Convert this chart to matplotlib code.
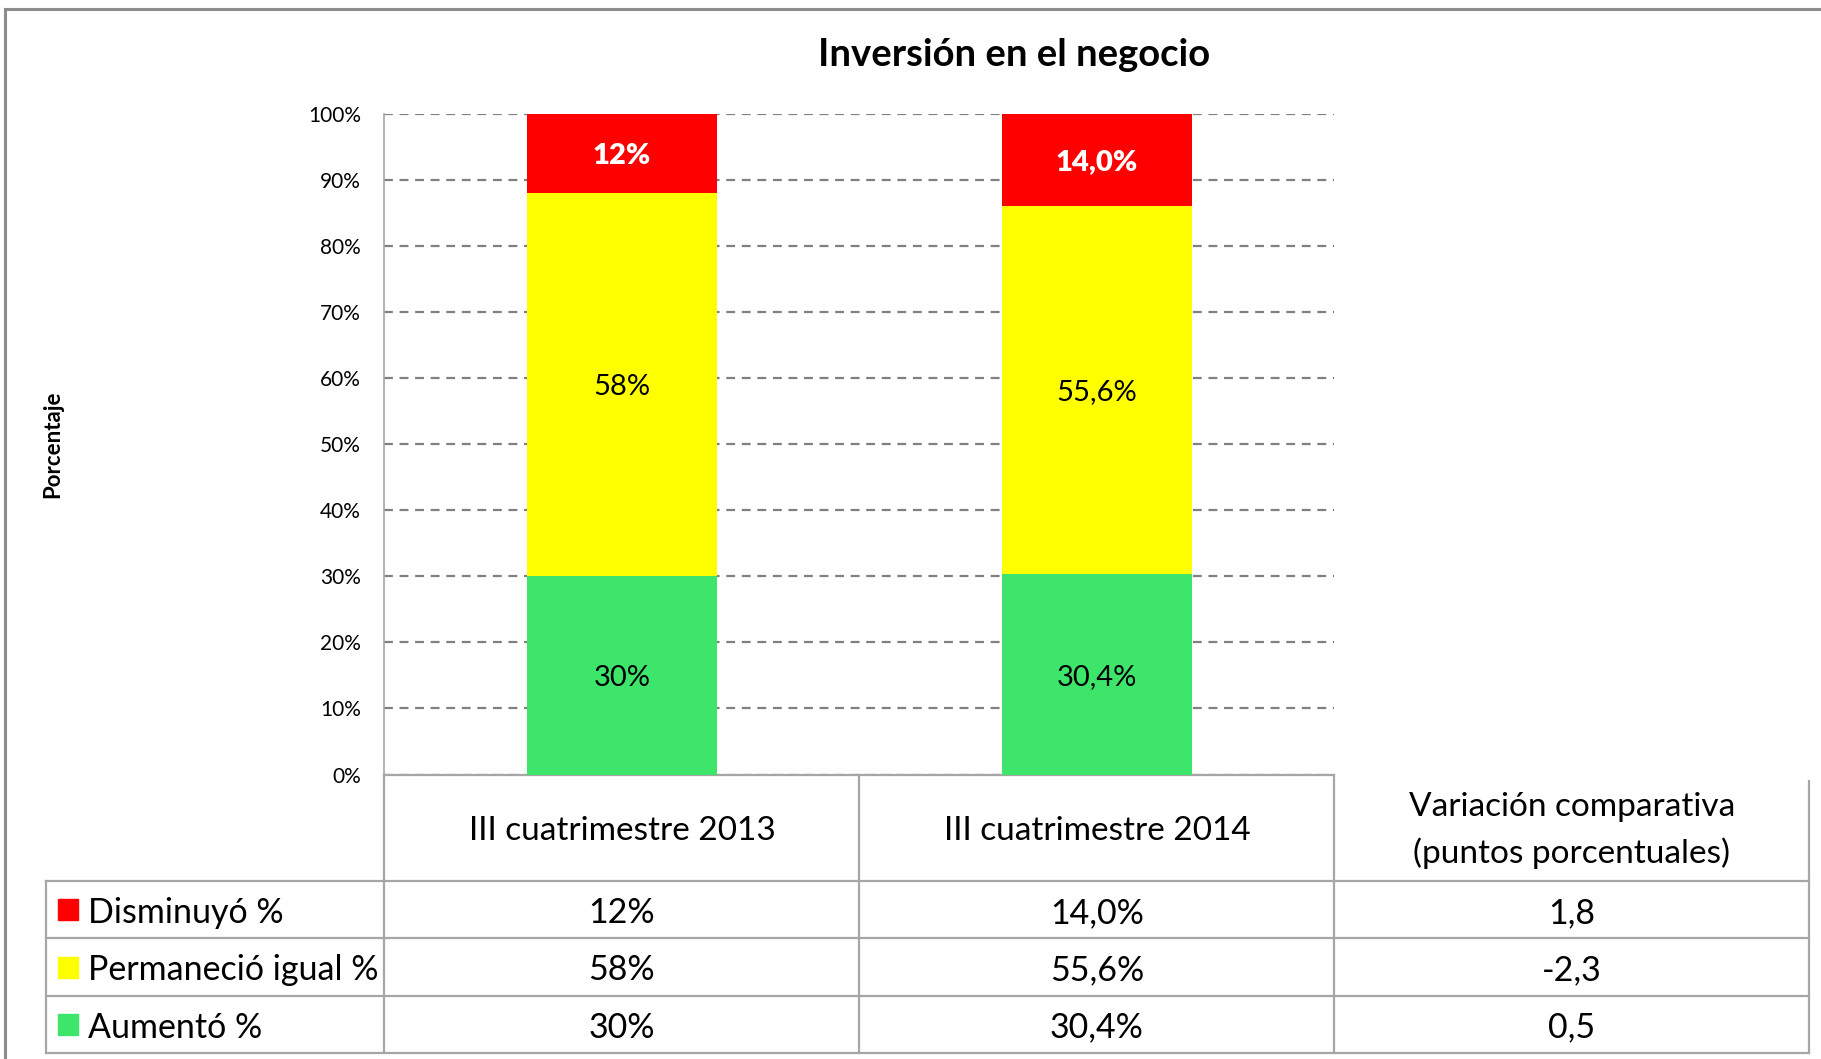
import matplotlib
matplotlib.use("Agg")
import matplotlib.pyplot as plt
import matplotlib.font_manager as fm
import matplotlib.transforms as mtransforms
from matplotlib.lines import Line2D
from matplotlib.patches import Rectangle
import numpy as np

# data
periodos = ["III cuatrimestre 2013", "III cuatrimestre 2014"]
col_variacion = "Variación comparativa\n(puntos porcentuales)"
series = ["Disminuyó %", "Permaneció igual %", "Aumentó %"]
aumento = [30.0, 30.4]
permanecio = [58.0, 55.6]
disminuyo = [12.0, 14.0]
txt_aumento = ["30%", "30,4%"]
txt_permanecio = ["58%", "55,6%"]
txt_disminuyo = ["12%", "14,0%"]
variacion = ["1,8", "-2,3", "0,5"]   # Disminuyó, Permaneció, Aumentó
yticks = np.arange(0, 101, 10)

c_red = "#FF0000"
c_yel = "#FFFF00"
c_grn = "#3DE66B"
c_line = "#A6A6A6"

names = {f.name for f in fm.fontManager.ttflist}
fam = "Lato" if "Lato" in names else "DejaVu Sans"
plt.rcParams["font.family"] = [fam, "DejaVu Sans"]

W, H = 1568.0, 912.0   # measured on the shrunk reference
def fx(x): return x / W
def fy(y): return 1 - y / H

fig = plt.figure(figsize=(18.21, 10.59), dpi=100)
ax = fig.add_axes([fx(331), fy(667), fx(1149) - fx(331), fy(98) - fy(667)])

x = np.arange(len(periodos))
bw = 0.4
ax.bar(x, aumento, bw, color=c_grn, zorder=3)
ax.bar(x, permanecio, bw, bottom=aumento, color=c_yel, zorder=3)
bot2 = np.array(aumento) + np.array(permanecio)
ax.bar(x, disminuyo, bw, bottom=bot2, color=c_red, zorder=3)

for i in range(len(periodos)):
    ax.text(x[i], aumento[i] / 2, txt_aumento[i], ha="center", va="center_baseline",
            fontsize=21, zorder=4)
    ax.text(x[i], aumento[i] + permanecio[i] / 2, txt_permanecio[i], ha="center",
            va="center_baseline", fontsize=21, zorder=4)
    ax.text(x[i], bot2[i] + disminuyo[i] / 2, txt_disminuyo[i], ha="center", va="center_baseline",
            fontsize=21, fontweight="heavy", color="white", zorder=4)

ax.set_xlim(-0.5, len(periodos) - 0.5)
ax.set_ylim(0, 100)
ax.set_yticks(yticks)
ax.set_yticklabels([f"{t}%" for t in yticks], fontsize=15)
ax.yaxis.grid(True, linestyle=(0, (4, 3)), color="#808080", linewidth=1.6, zorder=0)
ax.tick_params(axis="y", length=0, pad=17)
ax.tick_params(axis="x", length=0, labelbottom=False)
for s in ["top", "right"]:
    ax.spines[s].set_visible(False)
ax.spines["left"].set_color(c_line)
ax.spines["bottom"].set_color(c_line)
ax.spines["left"].set_linewidth(1.2)
ax.spines["bottom"].set_linewidth(1.6)

fig.text(fx(873), fy(47), "Inversión en el negocio", ha="center", va="center",
         fontsize=27.5, fontweight="bold")
fig.text(fx(45), fy(383), "Porcentaje", ha="center", va="center", rotation=90,
         fontsize=16, fontweight="bold")

# data table below the axes: x in data units, y in figure fraction
tr = mtransforms.blended_transform_factory(ax.transData, fig.transFigure)
ncol = len(periodos) + 1
row_y = [fy(667), fy(759), fy(808), fy(858), fy(907)]
x_left_fig = fx(40)
x_right = ncol - 0.5

def hline(y, x0fig, x1data):
    x0 = ax.transData.inverted().transform(fig.transFigure.transform((x0fig, 0)))[0]
    ax.add_line(Line2D([x0, x1data], [y, y], transform=tr, color=c_line, lw=1.6, clip_on=False))

for y in row_y[1:]:
    hline(y, x_left_fig, x_right)
for k in range(ncol + 1):
    xe = k - 0.5
    top = row_y[0] if k < ncol else fy(673)
    ax.add_line(Line2D([xe, xe], [top, row_y[-1]], transform=tr, color=c_line, lw=1.6, clip_on=False))
fig.add_artist(Line2D([x_left_fig, x_left_fig], [row_y[1], row_y[-1]], color=c_line, lw=1.6))

hdr_y = fy(713)
for i, p in enumerate(periodos):
    ax.text(i, hdr_y, p, transform=tr, ha="center", va="center_baseline", fontsize=24,
            clip_on=False)
ax.text(len(periodos), fy(715), col_variacion, transform=tr, ha="center", va="center",
        fontsize=24, linespacing=1.6, clip_on=False)

rows_vals = [
    (txt_disminuyo, variacion[0], c_red),
    (txt_permanecio, variacion[1], c_yel),
    (txt_aumento, variacion[2], c_grn),
]
for r, (vals, var, col) in enumerate(rows_vals):
    yc = (row_y[r + 1] + row_y[r + 2]) / 2
    fig.add_artist(Rectangle((fx(50), yc - 0.010), fx(17), 0.020, color=col))
    fig.text(fx(76), yc, series[r], ha="left", va="center_baseline", fontsize=24.5)
    for i in range(len(periodos)):
        ax.text(i, yc, vals[i], transform=tr, ha="center", va="center_baseline", fontsize=24.5,
                clip_on=False)
    ax.text(len(periodos), yc, var, transform=tr, ha="center", va="center_baseline",
            fontsize=24.5, clip_on=False)

# outer chart border
fig.add_artist(Line2D([fx(4.5), 1.0], [fy(8), fy(8)], color="#8C8C8C", lw=2.2))
fig.add_artist(Line2D([fx(4.5), fx(4.5)], [0, fy(8)], color="#8C8C8C", lw=2.2))

fig.savefig("out.png", dpi=100, facecolor="white")
